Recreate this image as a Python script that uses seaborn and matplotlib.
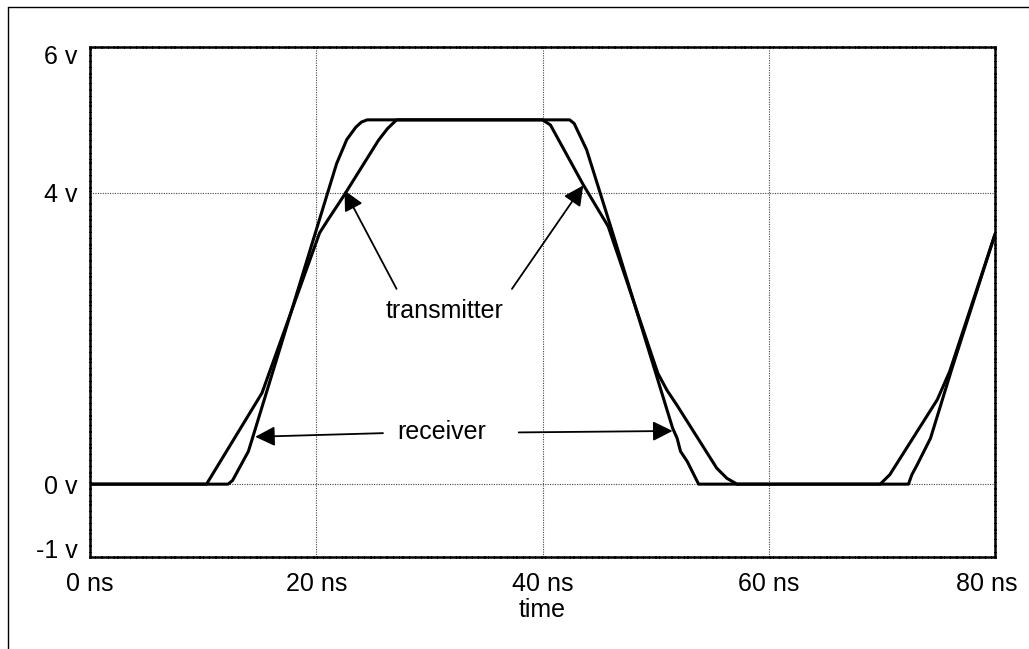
import numpy as np
import pandas as pd
import seaborn as sns
import matplotlib.pyplot as plt
from matplotlib.lines import Line2D
from matplotlib.transforms import ScaledTranslation

# transmitter waveform (time in ns, volts)
tx_t = [0, 10.3, 15.2, 20.3, 21.0, 22.4, 25.5, 26.3, 27.1, 40.0, 40.7, 43.6, 45.8, 47.4,
        50.2, 51.0, 51.9, 55.4, 56.3, 57.2, 69.85, 70.7, 74.9, 76.0, 80]
tx_v = [0, 0, 1.25, 3.45, 3.62, 3.95, 4.72, 4.88, 5.0, 5.0, 4.93, 4.11, 3.54, 2.81,
        1.52, 1.29, 1.08, 0.22, 0.08, 0, 0, 0.13, 1.16, 1.55, 3.43]

# receiver waveform
rx_t = [0, 12.2, 12.6, 14.0, 14.3, 21.8, 22.7, 23.5, 24.0, 24.5, 42.4, 42.8, 43.9, 46.1,
        51.5, 51.9, 52.2, 52.8, 53.8, 72.35, 72.65, 73.1, 74.3, 76.2, 80]
rx_v = [0, 0, 0.05, 0.45, 0.6, 4.4, 4.73, 4.9, 4.97, 5.0, 5.0, 4.95, 4.59, 3.5,
        0.77, 0.63, 0.45, 0.31, 0, 0, 0.13, 0.26, 0.63, 1.59, 3.43]

x_ticks = [0, 20, 40, 60, 80]
x_labels = ["0 ns", "20 ns", "40 ns", "60 ns", "80 ns"]
y_ticks = [-1, 0, 4, 6]
y_labels = ["-1 v", "0 v", "4 v", "6 v"]

sns.set_style("white")
plt.rcParams['font.family'] = ['Liberation Sans', 'DejaVu Sans']
plt.rcParams['text.color'] = 'black'
plt.rcParams['axes.labelcolor'] = 'black'

fig = plt.figure(figsize=(10.29, 6.49), dpi=100)
ax = fig.add_axes([90 / 1029, 1 - 557 / 649, 905 / 1029, 510 / 649])

tx = pd.DataFrame({"time": tx_t, "volts": tx_v})
rx = pd.DataFrame({"time": rx_t, "volts": rx_v})
sns.lineplot(data=tx, x="time", y="volts", sort=False, estimator=None,
             color="black", lw=2.2, ax=ax, zorder=3)
sns.lineplot(data=rx, x="time", y="volts", sort=False, estimator=None,
             color="black", lw=2.2, ax=ax, zorder=3)

ax.set_xlim(0, 80)
ax.set_ylim(-1, 6)
ax.set_xticks(x_ticks)
ax.set_xticklabels(x_labels)
ax.set_yticks(y_ticks)
ax.set_yticklabels(y_labels)
ax.tick_params(length=0, labelsize=18, colors="black")
ax.tick_params(axis="x", pad=11)
ax.tick_params(axis="y", pad=9)
ax.set_xlabel("time", fontsize=18, labelpad=1)
ax.set_ylabel("")
ax.grid(True, color="#444444", lw=0.8, linestyle=(0, (1, 1.2)), zorder=0)
ax.set_axisbelow(True)

# edge labels sit a little inside the frame
def nudge(label, dx, dy):
    label.set_transform(label.get_transform() + ScaledTranslation(dx / 100, dy / 100, fig.dpi_scale_trans))

nudge(ax.get_xticklabels()[-1], -8, 0)
nudge(ax.get_yticklabels()[0], 0, 9)
nudge(ax.get_yticklabels()[-1], 0, -8)

for s in ax.spines.values():
    s.set_color("black")
    s.set_linewidth(1.8)
    s.set_linestyle((0, (1.7, 0.8, 1.7, 0.8, 1.7, 0.8, 1.7, 0.8, 0.6, 0.8)))
    s.set_zorder(4)

# annotations
arrow = dict(arrowstyle="-|>", mutation_scale=30, lw=1.3, color="black",
             shrinkA=0, shrinkB=0)
ax.text(31.3, 2.38, "transmitter", fontsize=18, ha="center", va="center")
ax.annotate("", xy=(22.5, 4.03), xytext=(27.1, 2.68), arrowprops=arrow)
ax.annotate("", xy=(43.6, 4.1), xytext=(37.3, 2.68), arrowprops=arrow)
ax.text(31.1, 0.72, "receiver", fontsize=18, ha="center", va="center")
ax.annotate("", xy=(14.6, 0.65), xytext=(25.9, 0.70), arrowprops=arrow)
ax.annotate("", xy=(51.5, 0.73), xytext=(37.9, 0.71), arrowprops=arrow)

# outer frame (left and top edges)
fx = 8 / 1029
fy = 1 - 7 / 649
fig.add_artist(Line2D([fx, fx], [0, fy], transform=fig.transFigure, color="black", lw=1))
fig.add_artist(Line2D([fx, 1], [fy, fy], transform=fig.transFigure, color="black", lw=1))

fig.savefig("out.png", dpi=100)
